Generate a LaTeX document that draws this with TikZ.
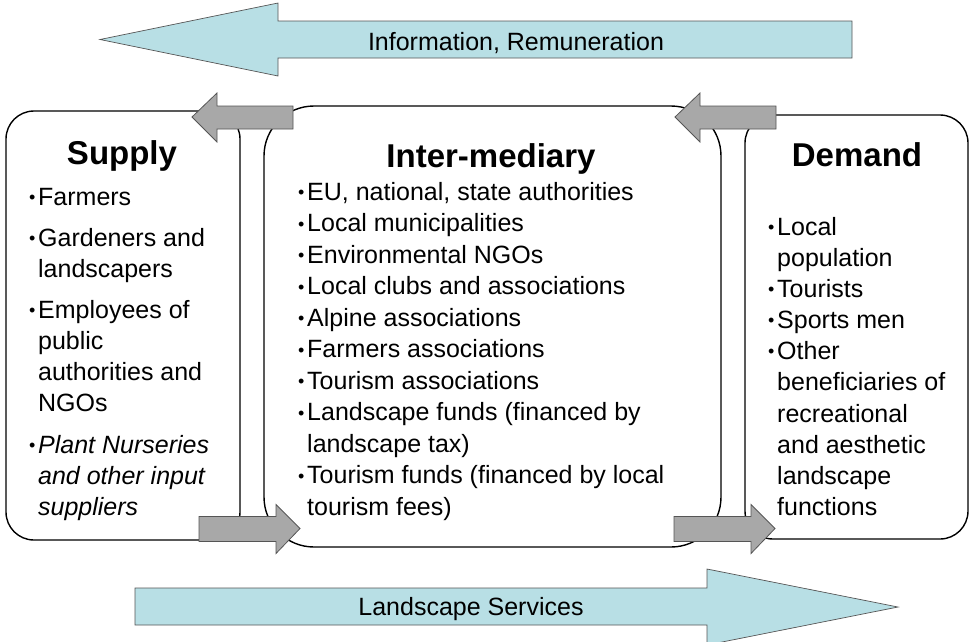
\documentclass[tikz,border=0pt]{standalone}
\usepackage{fontspec}
\setmainfont{Liberation Sans}
\tikzstyle{pixelCanvas} = [x = 1pt, y = -1pt]
\definecolor{flowColor}{RGB}{184,223,229}
\definecolor{linkColor}{RGB}{168,168,168}
\definecolor{edgeColor}{RGB}{85,85,85}
\tikzstyle{boxStyle} = [draw=black, fill=white, line width=1.4pt, inner sep=0]
\tikzstyle{flowStyle} = [draw=edgeColor, fill=flowColor, line width=.7pt]
\tikzstyle{linkStyle} = [draw=edgeColor, fill=linkColor, line width=.8pt]
\tikzstyle{titleText} = [font=\fontsize{33}{36}\selectfont\bfseries, anchor=base, inner sep=0]
\tikzstyle{itemText} = [font=\fontsize{25}{30}\selectfont, anchor=base west, inner sep=0]
\tikzstyle{flowText} = [font=\fontsize{25}{30}\selectfont, anchor=base, inner sep=0]
\newcommand{\bul}{\makebox[9pt][l]{\raisebox{1.5pt}{\scalebox{.72}{\textbullet}}}}
\newcommand{\gap}{\hspace*{9pt}}
\newcommand{\linkArrowLeft}[2]{\filldraw [linkStyle] (#1,#2) -- ++(25,-24) -- ++(0,13) -- ++(76,0) -- ++(0,23) -- ++(-76,0) -- ++(0,13) -- cycle;}
\newcommand{\linkArrowRight}[2]{\filldraw [linkStyle] (#1,#2) -- ++(-24,-24) -- ++(0,12) -- ++(-77,0) -- ++(0,25) -- ++(77,0) -- ++(0,12) -- cycle;}
\begin{document}
\begin{tikzpicture}[pixelCanvas]
  \useasboundingbox (0,0) rectangle (969,641);

  % flows on top and bottom
  \filldraw [flowStyle] (100,39.5) -- (278,3) -- (278,21) -- (852,21) -- (852,58) -- (278,58) -- (278,76) -- cycle;
  \node (infoLabel) [flowText] at (516,50) {Information, Remuneration};
  \filldraw [flowStyle] (135,588) -- (707,588) -- (707,569) -- (898,607) -- (707,645) -- (707,625) -- (135,625) -- cycle;
  \node (servicesLabel) [flowText] at (471,615) {Landscape Services};

  % the three boxes
  \node (supplyBox) [boxStyle, rounded corners=28pt, minimum width=234pt, minimum height=429pt] at (123,325.5) {};
  \node (mediaryBox) [boxStyle, rounded corners=50pt, minimum width=457pt, minimum height=441pt] at (492.5,326.5) {};
  \node (demandBox) [boxStyle, rounded corners=28pt, minimum width=223pt, minimum height=424pt] at (856.5,327) {};

  \linkArrowLeft{192}{117}
  \linkArrowLeft{675}{117}
  \linkArrowRight{300}{528.5}
  \linkArrowRight{775}{528.5}

  \node (supplyTitle) [titleText] at (122,164) {Supply};
  \node (mediaryTitle) [titleText] at (491,167) {Inter-mediary};
  \node (demandTitle) [titleText] at (857,166) {Demand};

  \foreach \ly/\txt [count=\k] in {205/\bul Farmers, 246/\bul Gardeners and, 277/\gap landscapers,
      318/\bul Employees of, 349/\gap public, 380/\gap authorities and, 411/\gap NGOs,
      453/{\bul\itshape Plant Nurseries}, 484/{\gap\itshape and other input}, 515/{\gap\itshape suppliers}}
    \node (supplyItem\k) [itemText] at (29,\ly) {\txt};

  \foreach \ly/\txt [count=\k] in {200/{\bul EU, national, state authorities}, 231.5/\bul Local municipalities,
      263/\bul Environmental NGOs, 294.5/\bul Local clubs and associations, 326/\bul Alpine associations,
      357.5/\bul Farmers associations, 389/\bul Tourism associations, 420.5/\bul Landscape funds (financed by,
      452/\gap landscape tax), 483.5/\bul Tourism funds (financed by local, 515/\gap tourism fees)}
    \node (mediaryItem\k) [itemText] at (298,\ly) {\txt};

  \foreach \ly/\txt [count=\k] in {235/\bul Local, 266/\gap population, 297/\bul Tourists, 328/\bul Sports men,
      359/\bul Other, 390/\gap beneficiaries of, 422/\gap recreational, 453/\gap and aesthetic,
      484/\gap landscape, 515/\gap functions}
    \node (demandItem\k) [itemText] at (768,\ly) {\txt};
\end{tikzpicture}
\end{document}
